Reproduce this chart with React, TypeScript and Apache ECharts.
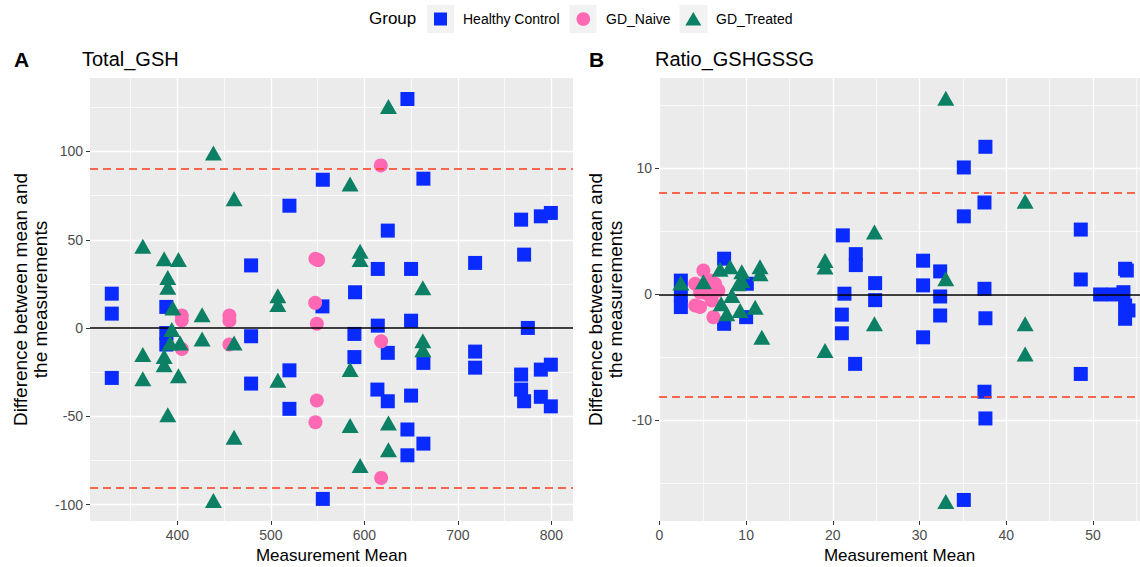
import React, { useEffect, useRef } from 'react';
import * as echarts from 'echarts';

const FONT = '"Liberation Sans", Arial, Helvetica, sans-serif';

const groupNames = ['Healthy Control', 'GD_Naive', 'GD_Treated'];
const groupColors = ['#0A2BFF', '#FF69B4', '#0B8064'];

// Panel A: Total_GSH  [measurement mean, difference]
const gshHealthy: [number, number][] = [
  [329.8, 19.5], [329.8, 8.2], [329.8, -28.2], [388.1, 12.0], [388.1, -2.8], [388.1, -9.3],
  [478.8, 35.5], [478.8, -4.6], [478.8, -31.4], [519.8, 69.3], [519.8, -23.9], [519.8, -45.7],
  [555.5, 84.0], [555.1, 12.3], [555.5, -96.7], [590.0, 20.3], [589.3, -3.3], [589.3, -16.4],
  [614.3, 33.5], [614.3, 1.4], [613.9, -34.8], [625.0, 55.2], [625.0, -14.0], [625.0, -41.4],
  [646.0, 129.7], [646.0, -57.4], [646.0, -72.0], [649.9, 33.5], [649.9, 4.2], [649.9, -38.2],
  [663.1, 84.6], [663.1, -19.7], [663.1, -65.4], [718.4, 36.9], [718.4, -13.3], [718.4, -22.4],
  [767.6, 61.4], [767.6, -26.3], [767.6, -34.8], [770.8, 41.6], [770.8, -41.4], [774.8, 0.1],
  [788.7, 63.3], [788.7, -23.5], [788.7, -38.9], [799.4, 65.2], [799.4, -20.7], [799.4, -44.3],
];
const gshNaive: [number, number][] = [
  [404.7, 7.1], [404.7, 4.4], [404.7, -11.8], [455.6, 7.1], [455.6, 4.2], [455.6, -9.3],
  [547.6, 39.3], [550.5, 38.5], [547.3, 14.3], [549.1, 2.5], [549.1, -41.0], [547.6, -53.3],
  [617.5, 92.1], [617.9, -7.5], [617.9, -84.8],
];
const gshTreated: [number, number][] = [
  [438.5, 99.2], [460.6, 73.3], [363.0, 46.3], [385.8, 39.2], [401.1, 38.8], [389.7, 28.7],
  [389.7, 23.1], [507.4, 18.3], [507.4, 13.3], [395.1, 11.4], [426.4, 7.6], [394.0, -0.8],
  [392.2, -8.4], [402.9, -8.4], [426.4, -6.1], [460.6, -8.4], [363.0, -15.0], [385.8, -16.0],
  [385.8, -20.7], [363.0, -28.7], [401.1, -26.9], [507.4, -29.5], [389.7, -49.0], [460.6, -61.8],
  [438.5, -97.6], [625.7, 125.5], [584.7, 81.6], [595.4, 43.5], [595.4, 38.8], [662.5, 22.8],
  [662.5, -7.1], [662.5, -12.2], [584.7, -23.5], [584.7, -55.2], [625.7, -53.7], [625.7, -68.8],
  [595.4, -77.8],
];
const gshMeanDiff = 0;
const gshLimits = [90.1, -90.1];

// Panel B: Ratio_GSHGSSG
const ratioHealthy: [number, number][] = [
  [2.47, 1.1], [2.47, -0.08], [2.47, -1.0], [7.46, 2.84], [7.46, -2.33], [10.08, 0.85], [10.0, -1.8],
  [21.15, 4.69], [22.65, 3.2], [22.65, 2.33], [21.34, 0.06], [21.04, -1.6], [21.04, -3.08],
  [22.57, -5.51], [24.88, 0.9], [24.88, -0.45], [30.41, 2.68], [30.41, 0.72], [30.41, -3.4],
  [32.38, 1.83], [32.38, -0.16], [32.38, -1.67], [35.11, 10.08], [35.11, 6.2], [35.11, -16.31],
  [37.6, 11.72], [37.49, 7.3], [37.49, 0.45], [37.6, -1.89], [37.49, -7.72], [37.6, -9.84],
  [48.6, 5.15], [48.6, 1.19], [48.6, -6.31], [50.83, 0.0], [52.36, 0.0], [53.52, 0.18],
  [53.71, 2.04], [53.91, 1.9], [53.71, -0.88], [54.1, -1.27], [53.71, -1.93],
];
const ratioNaive: [number, number][] = [
  [5.07, 1.9], [4.12, 0.85], [6.42, 0.85], [6.8, 0.32], [5.47, 0.06], [4.12, -0.88],
  [6.04, -0.48], [6.23, -1.8], [4.69, -1.0], [5.85, 1.1], [4.69, 0.16],
];
const ratioTreated: [number, number][] = [
  [2.47, 0.9], [5.07, 1.0], [7.0, 2.0], [8.15, 2.2], [9.5, 1.8], [9.5, 1.1], [11.6, 2.2],
  [11.6, 1.65], [9.11, 0.85], [8.35, -0.08], [7.12, -0.74], [7.77, -1.54], [9.31, -1.27],
  [11.04, -1.01], [11.81, -3.4], [19.1, 2.7], [19.1, 2.17], [19.1, -4.45], [24.8, 4.96],
  [24.8, -2.33], [33.03, 15.57], [33.03, 1.25], [33.03, -16.44], [42.18, 7.4], [42.18, -2.33],
  [42.18, -4.72],
];
const ratioMeanDiff = 0;
const ratioLimits = [8.1, -8.1];

// Axis ticks
const gshXTicks = [400, 500, 600, 700, 800];
const gshXMinor = [350, 450, 550, 650, 750];
const gshYTicks = [-100, -50, 0, 50, 100];
const gshYMinor = [-75, -25, 25, 75, 125];
const ratioXTicks = [0, 10, 20, 30, 40, 50];
const ratioXMinor = [5, 15, 25, 35, 45, 55];
const ratioYTicks = [-10, 0, 10];
const ratioYMinor = [-15, -5, 5, 15];

const yTitle = 'Difference between mean and\nthe measurements';
const xTitle = 'Measurement Mean';

function majorAxis(gridIndex: number, min: number, max: number, ticks: number[], extra: any = {}) {
  return {
    type: 'value',
    gridIndex,
    min,
    max,
    axisLine: { show: false, onZero: false },
    axisTick: { show: true, length: 4, lineStyle: { color: '#333333', width: 1 }, customValues: ticks },
    axisLabel: { customValues: ticks, color: '#4D4D4D', fontSize: 14, margin: 7, fontFamily: FONT },
    splitLine: { show: true, lineStyle: { color: '#FFFFFF', width: 1.4 } },
    ...extra,
  };
}
function minorAxis(gridIndex: number, min: number, max: number, ticks: number[]) {
  return {
    type: 'value',
    gridIndex,
    min,
    max,
    axisLine: { show: false, onZero: false },
    axisTick: { show: false, customValues: ticks },
    axisLabel: { show: false, customValues: ticks },
    splitLine: { show: true, lineStyle: { color: '#FFFFFF', width: 0.7 } },
  };
}

const xNameStyle = { color: '#000000', fontSize: 17, fontFamily: FONT };
const yNameStyle = { color: '#000000', fontSize: 19, fontFamily: FONT, lineHeight: 20 };

function scatter(name: string, idx: number, data: [number, number][], xi: number, yi: number) {
  const symbol = idx === 0 ? 'rect' : idx === 1 ? 'circle' : 'triangle';
  const size = idx === 0 ? 14 : idx === 1 ? 14 : [17, 15];
  return {
    type: 'scatter',
    name,
    xAxisIndex: xi,
    yAxisIndex: yi,
    data,
    symbol,
    symbolSize: size,
    itemStyle: { color: groupColors[idx], opacity: 1 },
    z: 3 + idx,
    silent: true,
  };
}

function refLines(xi: number, yi: number, mean: number, limits: number[]) {
  return {
    type: 'scatter',
    xAxisIndex: xi,
    yAxisIndex: yi,
    data: [],
    z: 10,
    silent: true,
    markLine: {
      silent: true,
      symbol: 'none',
      label: { show: false },
      data: [
        { yAxis: mean, lineStyle: { color: '#000000', width: 1.5, type: 'solid' } },
        { yAxis: limits[0], lineStyle: { color: '#FF3A1A', width: 1.5, type: [8, 5] } },
        { yAxis: limits[1], lineStyle: { color: '#FF3A1A', width: 1.5, type: [8, 5] } },
      ],
    },
  };
}

export default function App() {
  const ref = useRef<HTMLDivElement>(null);
  useEffect(() => {
    if (!ref.current) return;
    const chart = echarts.init(ref.current, null, { renderer: 'svg' });
    const option: any = {
      animation: false,
      backgroundColor: '#FFFFFF',
      textStyle: { fontFamily: FONT },
      grid: [
        { left: 90, top: 78, width: 483, height: 443, show: true, backgroundColor: '#EBEBEB', borderWidth: 0, outerBoundsMode: 'none', containLabel: false },
        { left: 659, top: 78, width: 481, height: 443, show: true, backgroundColor: '#EBEBEB', borderWidth: 0, outerBoundsMode: 'none', containLabel: false },
      ],
      xAxis: [
        majorAxis(0, 306.5, 823.1, gshXTicks, {
          position: 'bottom', name: xTitle, nameLocation: 'middle', nameGap: 24, nameTextStyle: xNameStyle,
        }),
        minorAxis(0, 306.5, 823.1, gshXMinor),
        majorAxis(1, -0.05, 55.43, ratioXTicks, {
          position: 'bottom', name: xTitle, nameLocation: 'middle', nameGap: 24, nameTextStyle: xNameStyle,
        }),
        minorAxis(1, -0.05, 55.43, ratioXMinor),
      ],
      yAxis: [
        majorAxis(0, -109.2, 141.6, gshYTicks, {
          position: 'left', name: yTitle, nameLocation: 'middle', nameGap: 40, nameRotate: 90, nameTextStyle: yNameStyle,
        }),
        minorAxis(0, -109.2, 141.6, gshYMinor),
        majorAxis(1, -17.98, 17.18, ratioYTicks, {
          position: 'left', name: yTitle, nameLocation: 'middle', nameGap: 34, nameRotate: 90, nameTextStyle: yNameStyle,
        }),
        minorAxis(1, -17.98, 17.18, ratioYMinor),
      ],
      series: [
        scatter(groupNames[0], 0, gshHealthy, 0, 0),
        scatter(groupNames[1], 1, gshNaive, 0, 0),
        scatter(groupNames[2], 2, gshTreated, 0, 0),
        refLines(0, 0, gshMeanDiff, gshLimits),
        scatter(groupNames[0], 0, ratioHealthy, 2, 2),
        scatter(groupNames[1], 1, ratioNaive, 2, 2),
        scatter(groupNames[2], 2, ratioTreated, 2, 2),
        refLines(2, 2, ratioMeanDiff, ratioLimits),
      ],
      graphic: [
        { type: 'text', left: 14, top: 49, style: { text: 'A', fontSize: 21, fontWeight: 'bold', fill: '#000', fontFamily: FONT } },
        { type: 'text', left: 82, top: 49, style: { text: 'Total_GSH', fontSize: 20, fill: '#000', fontFamily: FONT } },
        { type: 'text', left: 589, top: 49, style: { text: 'B', fontSize: 21, fontWeight: 'bold', fill: '#000', fontFamily: FONT } },
        { type: 'text', left: 655, top: 49, style: { text: 'Ratio_GSHGSSG', fontSize: 20, fill: '#000', fontFamily: FONT } },
        // legend
        { type: 'text', left: 369, top: 10, style: { text: 'Group', fontSize: 17, fill: '#000', fontFamily: FONT } },
        { type: 'rect', shape: { x: 427, y: 5, width: 27, height: 28 }, style: { fill: '#F2F2F2' } },
        { type: 'rect', shape: { x: 434, y: 12.5, width: 13, height: 13 }, style: { fill: groupColors[0] } },
        { type: 'text', left: 463, top: 12, style: { text: groupNames[0], fontSize: 14, fill: '#000', fontFamily: FONT } },
        { type: 'rect', shape: { x: 569.5, y: 5, width: 27, height: 28 }, style: { fill: '#F2F2F2' } },
        { type: 'circle', shape: { cx: 583.3, cy: 19, r: 6.8 }, style: { fill: groupColors[1] } },
        { type: 'text', left: 606, top: 12, style: { text: groupNames[1], fontSize: 14, fill: '#000', fontFamily: FONT } },
        { type: 'rect', shape: { x: 679.5, y: 5, width: 28, height: 28 }, style: { fill: '#F2F2F2' } },
        { type: 'polygon', shape: { points: [[685.3, 25.5], [701.3, 25.5], [693.3, 12]] }, style: { fill: groupColors[2] } },
        { type: 'text', left: 716, top: 12, style: { text: groupNames[2], fontSize: 14, fill: '#000', fontFamily: FONT } },
      ],
    };
    chart.setOption(option);
    return () => chart.dispose();
  }, []);
  return (
    <div
      ref={ref}
      style={{ position: 'absolute', left: 0, top: 0, width: 1140, height: 567, background: '#FFFFFF' }}
    />
  );
}
